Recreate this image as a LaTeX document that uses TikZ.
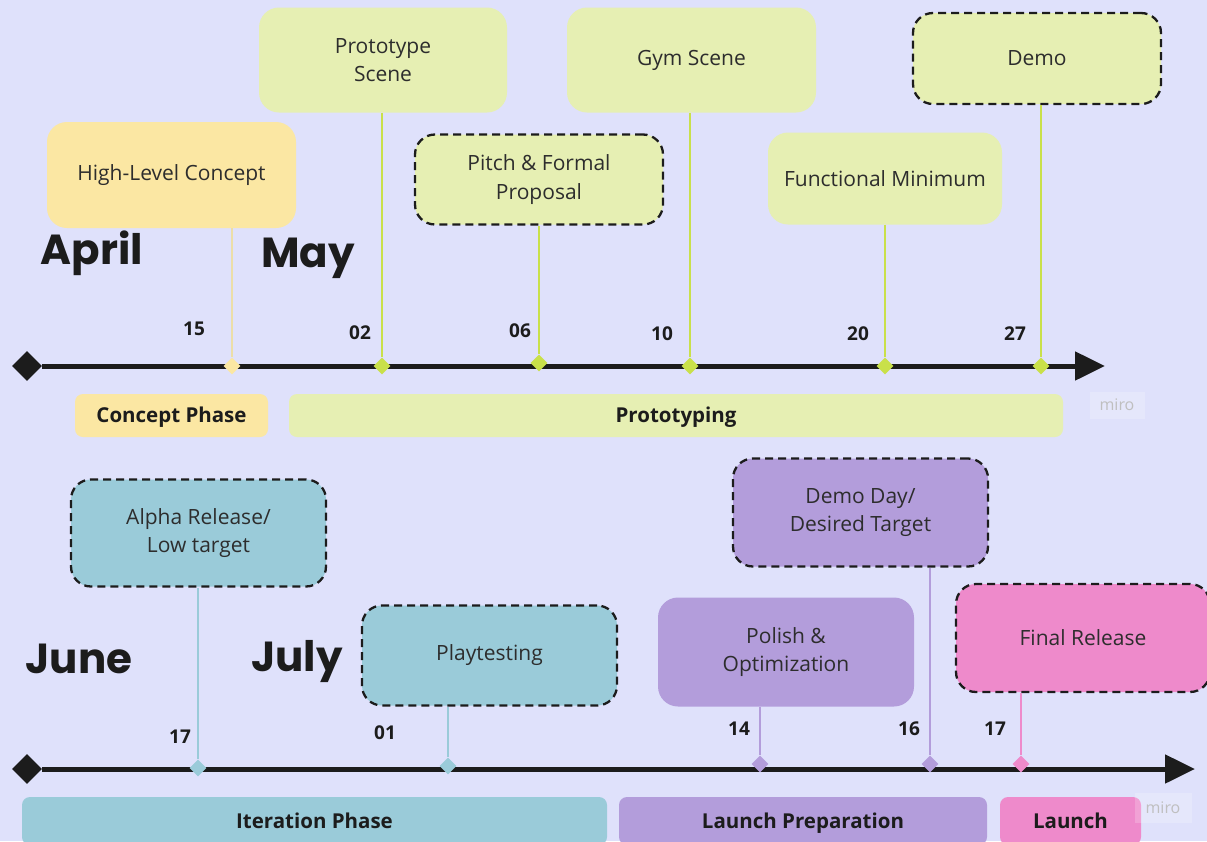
\documentclass[tikz,border=0pt]{standalone}
\usepackage{fontspec}
\setmainfont{Open Sans}
\newfontfamily\monthfont{Poppins}
\usetikzlibrary{arrows.meta,positioning,shapes.geometric}
\definecolor{bgcol}{RGB}{223,225,251}
\definecolor{ylw}{RGB}{251,231,163}
\definecolor{ylwline}{RGB}{236,222,168}
\definecolor{lime}{RGB}{230,239,179}
\definecolor{limeline}{RGB}{201,224,74}
\definecolor{teal}{RGB}{154,203,217}
\definecolor{purp}{RGB}{179,157,219}
\definecolor{pink}{RGB}{238,138,203}
\definecolor{txt}{RGB}{45,45,45}
\definecolor{axis}{RGB}{28,28,28}
\tikzset{x=1pt,y=-1pt}
\tikzset{box/.style={rounded corners=20pt,align=center,text=txt,font=\fontsize{21}{28.5}\selectfont,inner sep=0pt},
  dashbox/.style={box,draw=axis,line width=2.3pt,dash pattern=on 8pt off 5pt},
  phase/.style={rounded corners=8pt,text=axis,font=\fontsize{20.5}{23}\selectfont\bfseries,minimum height=43pt,inner sep=0pt,text height=17pt,text depth=3pt},
  datemark/.style={diamond,inner sep=0pt,minimum width=17pt,minimum height=17pt},
  stem/.style={line width=2pt},
  day/.style={text=axis,font=\fontsize{19}{23}\selectfont\bfseries},
  month/.style={text=axis,font=\fontsize{42}{46}\monthfont\bfseries},
  wmark/.style={fill=white,fill opacity=0.2,text opacity=1,text=black!25,font=\fontsize{16}{18}\selectfont,minimum width=55pt,minimum height=27pt}}
\begin{document}
\begin{tikzpicture}
\useasboundingbox[fill=bgcol] (0,0) rectangle (1207,841);
% upper timeline
\node[diamond,fill=axis,inner sep=0pt,minimum size=30pt] (st1) at (27,366) {};
\coordinate (en1) at (1105,366);
\draw[axis,line width=5pt,-{Triangle[length=30pt,width=28pt]}] (st1) -- (en1);
\node[box,fill=ylw,minimum width=249pt,minimum height=106pt] (hlc) at (171.5,175) {High-Level Concept};
\node[box,fill=lime,minimum width=248pt,minimum height=105pt] (pscene) at (383,60) {Prototype\\Scene};
\node[dashbox,fill=lime,minimum width=248pt,minimum height=90pt] (pitch) at (539,179.5) {Pitch \& Formal\\Proposal};
\node[box,fill=lime,minimum width=249pt,minimum height=105pt] (gym) at (691.5,60) {Gym Scene};
\node[box,fill=lime,minimum width=234pt,minimum height=92pt] (fmin) at (885,178.5) {Functional Minimum};
\node[dashbox,fill=lime,minimum width=248pt,minimum height=91pt] (demo) at (1037,58.5) {Demo};
\node[datemark,fill=ylw] (d15) at (232,366) {};
\node[datemark,fill=limeline] (d02) at (382,366) {};
\node[datemark,fill=limeline] (d06) at (539,363) {};
\node[datemark,fill=limeline] (d10) at (690,366) {};
\node[datemark,fill=limeline] (d20) at (885,366) {};
\node[datemark,fill=limeline] (d27) at (1041,366) {};
\draw[stem,ylwline] (hlc.south -| d15) -- (d15);
\draw[stem,limeline] (pscene.south -| d02) -- (d02);
\draw[stem,limeline] (pitch.south -| d06) -- (d06);
\draw[stem,limeline] (gym.south -| d10) -- (d10);
\draw[stem,limeline] (fmin.south -| d20) -- (d20);
\draw[stem,limeline] (demo.south -| d27) -- (d27);
\node[day] (n15) at (194,329) {15};
\node[day] (n02) at (360,333) {02};
\node[day] (n06) at (520,331) {06};
\node[day] (n10) at (662,334) {10};
\node[day] (n20) at (858,334) {20};
\node[day] (n27) at (1015,334) {27};
\node[month] (apr) at (92,253) {April};
\node[month] (may) at (308,258) {May};
\node[phase,fill=ylw,minimum width=193pt] (conc) at (171.5,415.5) {Concept Phase};
\node[phase,fill=lime,minimum width=774pt] (proto) at (676,415.5) {Prototyping};
\node[wmark] (wm1) at (1117,405) {miro};
% lower timeline
\node[diamond,fill=axis,inner sep=0pt,minimum size=30pt] (st2) at (27,769) {};
\coordinate (en2) at (1195,769);
\draw[axis,line width=5pt,-{Triangle[length=30pt,width=28pt]}] (st2) -- (en2);
\node[dashbox,fill=teal,minimum width=255pt,minimum height=107pt] (alpha) at (198.5,533) {Alpha Release/\\Low target};
\node[dashbox,fill=teal,minimum width=255pt,minimum height=100pt] (play) at (489.5,655.5) {Playtesting};
\node[box,fill=purp,minimum width=256pt,minimum height=109pt] (polish) at (786,652) {Polish \&\\Optimization};
\node[dashbox,fill=purp,minimum width=255pt,minimum height=108pt] (dday) at (860.5,512.5) {Demo Day/\\Desired Target};
\node[dashbox,fill=pink,minimum width=254pt,minimum height=108pt] (final) at (1083,638) {Final Release};
\node[datemark,fill=teal] (e17) at (198,768) {};
\node[datemark,fill=teal] (e01) at (448,766) {};
\node[datemark,fill=purp] (e14) at (760,764) {};
\node[datemark,fill=purp] (e16) at (930,764) {};
\node[datemark,fill=pink] (e17b) at (1021,764) {};
\draw[stem,teal] (alpha.south -| e17) -- (e17);
\draw[stem,teal] (play.south -| e01) -- (e01);
\draw[stem,purp] (polish.south -| e14) -- (e14);
\draw[stem,purp] (dday.south -| e16) -- (e16);
\draw[stem,pink] (final.south -| e17b) -- (e17b);
\node[day] (m17) at (180,737) {17};
\node[day] (m01) at (385,733) {01};
\node[day] (m14) at (739,729) {14};
\node[day] (m16) at (909,729) {16};
\node[day] (m17b) at (995,729) {17};
\node[month] (jun) at (79,659) {June};
\node[month] (jul) at (297,662) {July};
\node[phase,fill=teal,minimum width=585pt,minimum height=48pt] (iter) at (314.5,821) {Iteration Phase};
\node[phase,fill=purp,minimum width=368pt,minimum height=48pt] (lprep) at (803,821) {Launch Preparation};
\node[phase,fill=pink,minimum width=141pt,minimum height=48pt] (launch) at (1070.5,821) {Launch};
\node[wmark,minimum width=57pt,minimum height=30pt] (wm2) at (1163,808) {miro};
\end{tikzpicture}
\end{document}
